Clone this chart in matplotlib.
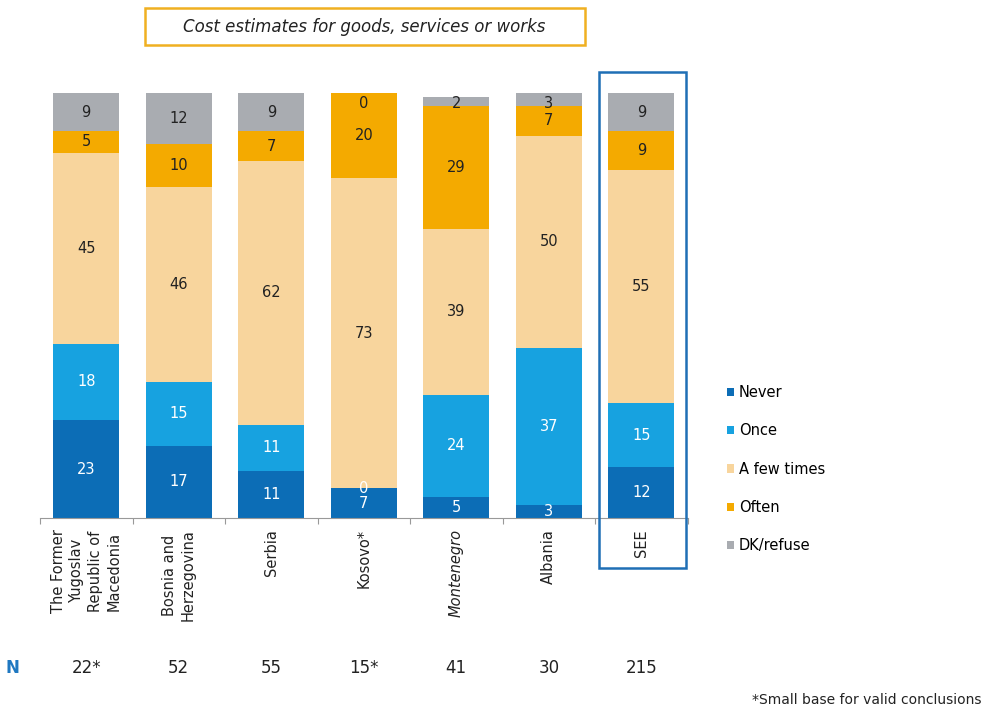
import matplotlib.pyplot as plt
from matplotlib.patches import Rectangle
import numpy as np

countries = ['The Former\nYugoslav\nRepublic of\nMacedonia', 'Bosnia and\nHerzegovina', 'Serbia',
             'Kosovo*', 'Montenegro', 'Albania', 'SEE']
never = [23, 17, 11, 7, 5, 3, 12]
once = [18, 15, 11, 0, 24, 37, 15]
few_times = [45, 46, 62, 73, 39, 50, 55]
often = [5, 10, 7, 20, 29, 7, 9]
dk_refuse = [9, 12, 9, 0, 2, 3, 9]
base_n = ['22*', '52', '55', '15*', '41', '30', '215']

series = [('Never', never, '#0c6db6', 'white'),
          ('Once', once, '#17a2e0', 'white'),
          ('A few times', few_times, '#f8d59d', '#222222'),
          ('Often', often, '#f4aa00', '#222222'),
          ('DK/refuse', dk_refuse, '#a9acb1', '#222222')]

fig = plt.figure(figsize=(9.83, 7.13), dpi=100)
ax = fig.add_axes([40 / 983, 1 - 518 / 713, 647.5 / 983, 425 / 713])

x = np.arange(len(countries))
bottom = np.zeros(len(countries))
handles = []
for name, vals, color, tcolor in series:
    vals = np.array(vals, dtype=float)
    bars = ax.bar(x, vals, bottom=bottom, width=0.71, color=color, label=name, zorder=2)
    handles.append(bars)
    for xi, b, v in zip(x, bottom, vals):
        y = min(b + v / 2, 97.6)
        ax.text(xi, y, f'{int(v)}', ha='center', va='center', fontsize=10.5,
                color=tcolor, zorder=3)
    bottom += vals

ax.set_xlim(-0.5, len(countries) - 0.5)
ax.set_ylim(0, 100)
for s in ['top', 'right', 'left']:
    ax.spines[s].set_visible(False)
ax.spines['bottom'].set_color('#999999')
ax.set_yticks([])
ax.set_xticks(np.arange(len(countries) + 1) - 0.5)
ax.set_xticklabels([])
ax.tick_params(axis='x', length=4, color='#999999', direction='out')
for xi, lab in zip(x, countries):
    ax.text(xi, -2.6, lab, rotation=90, ha='center', va='top', multialignment='center',
            fontsize=10.5, color='#222222', linespacing=1.3,
            style='italic' if lab == 'Montenegro' else 'normal')

# SEE highlight box
ax.add_patch(Rectangle((5.54, -11.7), 0.94, 116.6, fill=False, edgecolor='#1f6fb5',
                       lw=1.8, clip_on=False, zorder=4))

# title box
fig.patches.append(Rectangle((145 / 983, 1 - 45 / 713), 440 / 983, 37 / 713, transform=fig.transFigure,
                             fill=False, edgecolor='#f0b021', lw=1.8))
fig.text(364 / 983, 1 - 27 / 713, 'Cost estimates for goods, services or works', ha='center', va='center',
         fontsize=12, style='italic', color='#222222')

# base row
fig.text(12 / 983, 1 - 668 / 713, 'N', ha='center', va='center', fontsize=12,
         color='#1f78c1', fontweight='bold')
for xi, n in zip(x, base_n):
    px = 40 + (xi + 0.5) * 92.5
    fig.text(px / 983, 1 - 668 / 713, n, ha='center', va='center', fontsize=12, color='#222222')

fig.legend(handles=handles, labels=[s[0] for s in series],
           loc='upper left', bbox_to_anchor=(714 / 983, 1 - 372 / 713), frameon=False,
           fontsize=10.5, handlelength=0.5, handleheight=0.5, handletextpad=0.3,
           labelspacing=1.6)

fig.text(981 / 983, 1 - 700 / 713, '*Small base for valid conclusions', ha='right', va='center',
         fontsize=10, color='#222222')

fig.savefig('out.png', dpi=100)
